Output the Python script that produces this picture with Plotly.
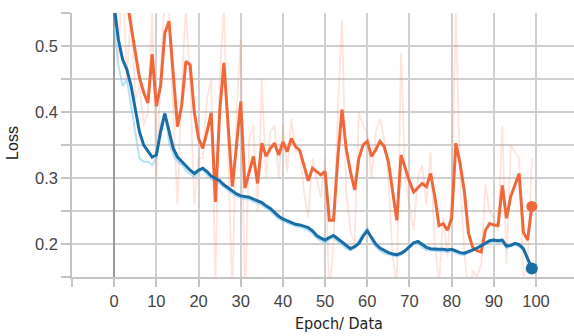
import plotly.graph_objects as go

epochs = list(range(100))

train_smooth = [0.56, 0.51, 0.48, 0.465, 0.44, 0.405, 0.37, 0.35, 0.34, 0.332,
                0.335, 0.37, 0.398, 0.37, 0.345, 0.332, 0.325, 0.318, 0.312, 0.307,
                0.312, 0.315, 0.31, 0.303, 0.3, 0.296, 0.29, 0.285, 0.28, 0.276,
                0.273, 0.272, 0.271, 0.268, 0.266, 0.263, 0.258, 0.254, 0.248, 0.242,
                0.238, 0.235, 0.232, 0.23, 0.229, 0.227, 0.225, 0.22, 0.213, 0.209,
                0.206, 0.21, 0.213, 0.208, 0.203, 0.197, 0.193, 0.196, 0.201, 0.212,
                0.22, 0.21, 0.2, 0.194, 0.19, 0.187, 0.185, 0.184, 0.186, 0.19,
                0.196, 0.202, 0.204, 0.199, 0.195, 0.193, 0.192, 0.192, 0.192, 0.191,
                0.192, 0.189, 0.187, 0.186, 0.188, 0.191, 0.194, 0.197, 0.201, 0.205,
                0.206, 0.205, 0.206, 0.197, 0.198, 0.201, 0.199, 0.193, 0.178, 0.163]

train_raw = [0.53, 0.47, 0.44, 0.45, 0.41, 0.37, 0.33, 0.325, 0.325, 0.32,
             0.33, 0.38, 0.40, 0.355, 0.335, 0.325, 0.32, 0.312, 0.306, 0.302,
             0.31, 0.312, 0.305, 0.298, 0.295, 0.292, 0.286, 0.281, 0.276, 0.272,
             0.27, 0.268, 0.268, 0.264, 0.262, 0.259, 0.254, 0.25, 0.244, 0.238,
             0.235, 0.232, 0.229, 0.227, 0.226, 0.224, 0.221, 0.216, 0.209, 0.205,
             0.202, 0.207, 0.21, 0.204, 0.199, 0.193, 0.19, 0.195, 0.205, 0.216,
             0.224, 0.205, 0.196, 0.19, 0.186, 0.184, 0.182, 0.181, 0.184, 0.188,
             0.194, 0.2, 0.201, 0.195, 0.191, 0.19, 0.189, 0.189, 0.189, 0.188,
             0.189, 0.186, 0.184, 0.183, 0.186, 0.189, 0.192, 0.196, 0.2, 0.203,
             0.204, 0.202, 0.204, 0.194, 0.196, 0.199, 0.196, 0.19, 0.175, 0.16]

val_smooth = [0.72, 0.66, 0.61, 0.57, 0.53, 0.49, 0.452, 0.43, 0.414, 0.488,
              0.409, 0.44, 0.52, 0.538, 0.455, 0.378, 0.41, 0.477, 0.472, 0.40,
              0.36, 0.345, 0.37, 0.399, 0.264, 0.40, 0.475, 0.38, 0.287, 0.35,
              0.416, 0.285, 0.31, 0.333, 0.292, 0.353, 0.333, 0.345, 0.353, 0.335,
              0.355, 0.34, 0.36, 0.348, 0.342, 0.32, 0.296, 0.315, 0.31, 0.305,
              0.31, 0.236, 0.236, 0.33, 0.404, 0.345, 0.31, 0.282, 0.33, 0.35,
              0.356, 0.333, 0.343, 0.356, 0.348, 0.325, 0.28, 0.236, 0.335, 0.315,
              0.295, 0.279, 0.285, 0.292, 0.287, 0.307, 0.272, 0.228, 0.231, 0.221,
              0.239, 0.353, 0.322, 0.28, 0.216, 0.195, 0.19, 0.188, 0.221, 0.231,
              0.229, 0.228, 0.289, 0.239, 0.272, 0.29, 0.307, 0.218, 0.206, 0.257]

val_raw = [0.80, 0.48, 0.62, 0.45, 0.56, 0.42, 0.44, 0.38, 0.40, 0.55,
           0.30, 0.46, 0.58, 0.55, 0.40, 0.26, 0.44, 0.56, 0.44, 0.26,
           0.33, 0.33, 0.42, 0.45, 0.14, 0.45, 0.56, 0.32, 0.12, 0.40,
           0.51, 0.10, 0.36, 0.38, 0.25, 0.45, 0.30, 0.37, 0.38, 0.30,
           0.38, 0.31, 0.39, 0.34, 0.34, 0.28, 0.24, 0.33, 0.30, 0.27,
           0.33, 0.12, 0.20, 0.40, 0.54, 0.28, 0.22, 0.20, 0.40, 0.38,
           0.37, 0.30, 0.37, 0.39, 0.36, 0.30, 0.18, 0.14, 0.49, 0.30,
           0.26, 0.22, 0.30, 0.32, 0.26, 0.34, 0.20, 0.14, 0.24, 0.18,
           0.28, 0.55, 0.30, 0.19, 0.12, 0.16, 0.15, 0.17, 0.29, 0.25,
           0.24, 0.22, 0.38, 0.17, 0.35, 0.34, 0.33, 0.15, 0.17, 0.33]

x_tick_vals = [-10, 0, 10, 20, 30, 40, 50, 60, 70, 80, 90, 100]
x_tick_text = ["", "0", "10", "20", "30", "40", "50", "60", "70", "80", "90", "100"]
y_tick_vals = [0.15, 0.2, 0.25, 0.3, 0.35, 0.4, 0.45, 0.5, 0.55]
y_tick_text = ["", "0.2", "", "0.3", "", "0.4", "", "0.5", ""]

ORANGE = "#f0683a"
BLUE = "#1a6ca4"

fig = go.Figure()
fig.add_trace(go.Scatter(x=epochs, y=val_raw, mode="lines",
                         line=dict(color="rgba(244,130,100,0.22)", width=1.8),
                         hoverinfo="skip"))
fig.add_trace(go.Scatter(x=epochs, y=train_raw, mode="lines",
                         line=dict(color="rgba(120,200,240,0.55)", width=2),
                         hoverinfo="skip"))
fig.add_trace(go.Scatter(x=epochs, y=val_smooth, mode="lines",
                         line=dict(color=ORANGE, width=3)))
fig.add_trace(go.Scatter(x=epochs, y=train_smooth, mode="lines",
                         line=dict(color=BLUE, width=3)))
fig.add_trace(go.Scatter(x=[epochs[-1]], y=[val_smooth[-1]], mode="markers",
                         marker=dict(color=ORANGE, size=11)))
fig.add_trace(go.Scatter(x=[epochs[-1]], y=[train_smooth[-1]], mode="markers",
                         marker=dict(color=BLUE, size=12)))

axis_font = dict(family="Liberation Sans, Arial, sans-serif", size=16.5, color="#444")

fig.update_layout(
    width=574, height=336,
    margin=dict(l=72, r=0, t=13, b=59, autoexpand=False),
    paper_bgcolor="white", plot_bgcolor="white",
    showlegend=False,
    xaxis=dict(range=[-10, 109], tickmode="array", tickvals=x_tick_vals,
               ticktext=x_tick_text, showgrid=True, gridcolor="#cfcfcf",
               gridwidth=1.5, ticks="outside", ticklen=8, tickwidth=1.5,
               tickcolor="#c4c4c4", tickfont=axis_font,
               zeroline=True, zerolinecolor="#9a9a9a", zerolinewidth=2,
               showline=True, linecolor="#c4c4c4", linewidth=1.5),
    yaxis=dict(range=[0.15, 0.5505], tickmode="array", tickvals=y_tick_vals,
               ticktext=y_tick_text, showgrid=True, gridcolor="#cfcfcf",
               gridwidth=1.5, ticks="outside", ticklen=9, tickwidth=1.5,
               tickcolor="#c4c4c4", tickfont=axis_font, zeroline=False,
               showline=True, linecolor="#c4c4c4", linewidth=1.5),
    annotations=[
        dict(text="Epoch/ Data", xref="paper", yref="paper",
             x=0.532, y=-0.175, xanchor="center", yanchor="middle",
             showarrow=False,
             font=dict(family="Liberation Sans Narrow, DejaVu Sans Condensed, sans-serif",
                       size=16, color="#222")),
        dict(text="Loss", xref="paper", yref="paper",
             x=-0.1175, y=0.508, xanchor="center", yanchor="middle",
             textangle=-90, showarrow=False,
             font=dict(family="Liberation Sans, Arial, sans-serif", size=16, color="#222")),
    ],
)

fig.write_html("out.html", config={"displayModeBar": False},
               post_script="document.body.style.margin='0px';document.body.style.overflow='hidden';")
